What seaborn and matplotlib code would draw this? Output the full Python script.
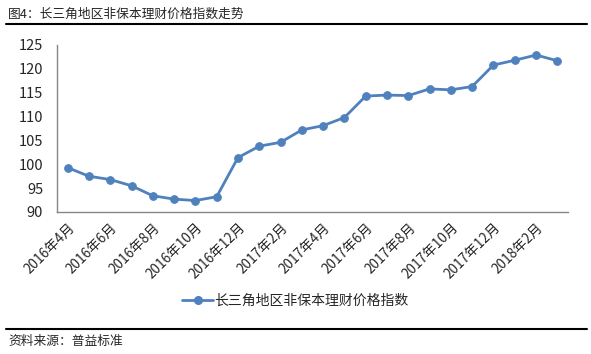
import pandas as pd
import matplotlib
matplotlib.use("Agg")
import matplotlib.pyplot as plt
import seaborn as sns
from matplotlib.lines import Line2D

# 数据：2016年4月 - 2018年3月
months = [f"{y}年{m}月" for y, m in
          [(2016, m) for m in range(4, 13)] +
          [(2017, m) for m in range(1, 13)] +
          [(2018, m) for m in range(1, 4)]]
index_values = [99.3, 97.5, 96.8, 95.5, 93.4, 92.7, 92.4, 93.2,
                101.4, 103.8, 104.6, 107.2, 108.1, 109.8, 114.3, 114.5,
                114.4, 115.8, 115.6, 116.3, 120.8, 121.8, 122.9, 121.7]
series_name = "长三角地区非保本理财价格指数"
title = "图4：长三角地区非保本理财价格指数走势"
source = "资料来源：普益标准"

df = pd.DataFrame({"month": months, "value": index_values})
df["pos"] = range(len(df))

sns.set_style("white")
plt.rcParams["font.family"] = ["Noto Sans CJK SC", "DejaVu Sans"]

blue = "#4F81BD"
fig = plt.figure(figsize=(5.91, 3.54), dpi=100)
ax = fig.add_axes([57 / 591, 1 - 212 / 354, (568 - 57) / 591, (212 - 45) / 354])

sns.lineplot(data=df, x="pos", y="value", ax=ax, color=blue, linewidth=2,
             marker="o", markersize=5.5, markeredgecolor=blue, legend=False)

ax.set_xlim(-0.5, len(months) - 0.5)
ax.set_ylim(90, 125)
ax.set_yticks(range(90, 126, 5))
ax.tick_params(axis="y", labelsize=10.5, length=4, color="#868686", pad=6)

# 主刻度：每两个类别之间的分隔线；次刻度：标签
ax.set_xticks([i - 0.5 for i in range(0, len(months) + 1, 2)])
ax.set_xticklabels([])
ax.tick_params(axis="x", which="major", length=5, color="#868686")
ax.set_xticks(list(range(0, len(months), 2)), minor=True)
ax.set_xticklabels(months[::2], minor=True, rotation=45, ha="right",
                   rotation_mode="anchor", fontsize=9.8)
ax.tick_params(axis="x", which="minor", length=0, pad=6)
ax.set_xlabel("")
ax.set_ylabel("")

for s in ["top", "right"]:
    ax.spines[s].set_visible(False)
for s in ["left", "bottom"]:
    ax.spines[s].set_color("#868686")
    ax.spines[s].set_linewidth(1)

handle = Line2D([], [], color=blue, linewidth=2, marker="o", markersize=5.5)
fig.legend([handle], [series_name], loc="center", bbox_to_anchor=(0.5, 1 - 301 / 354),
           frameon=False, fontsize=10, handlelength=2.2, handletextpad=0.1)

fig.text(8 / 591, 1 - 14 / 354, title, fontsize=9.2, va="center", ha="left")
fig.add_artist(Line2D([6 / 591, 587 / 591], [1 - 24 / 354] * 2, color="black", linewidth=1.5))
fig.add_artist(Line2D([6 / 591, 587 / 591], [1 - 329 / 354] * 2, color="black", linewidth=1.5))
fig.text(8 / 591, 1 - 341 / 354, source, fontsize=9.2, va="center", ha="left")

fig.savefig("out.png", dpi=100)
